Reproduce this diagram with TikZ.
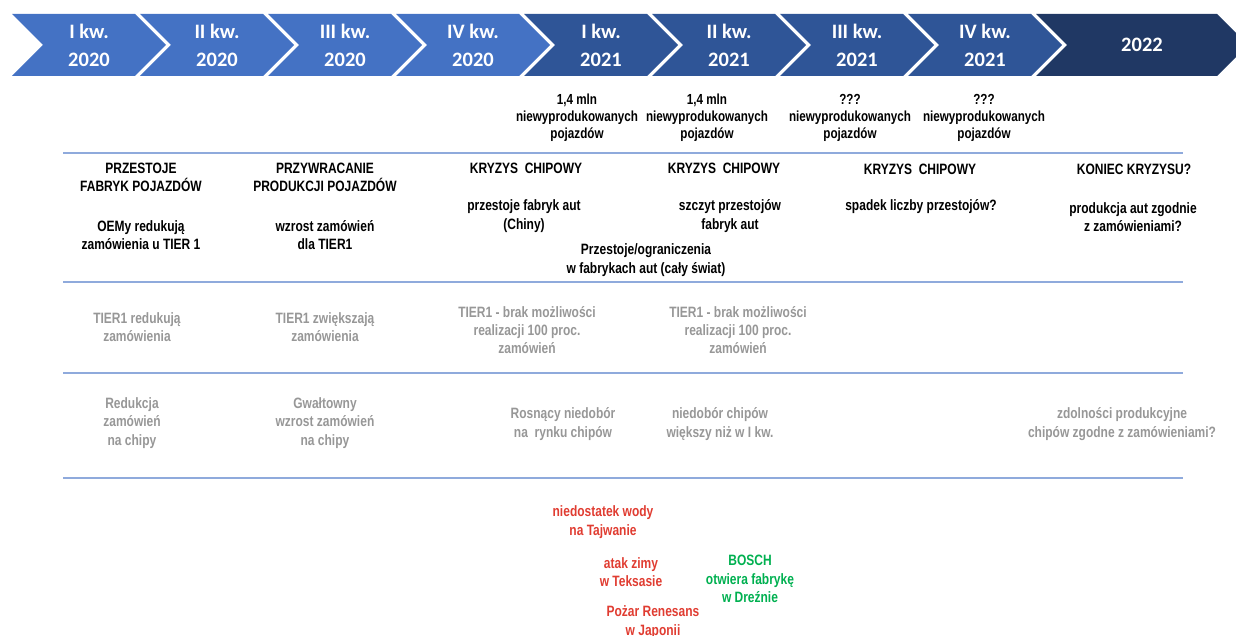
\documentclass[tikz,border=0pt]{standalone}
\usepackage{fontspec}
\setmainfont{Liberation Sans}[FakeStretch=0.80]
\newfontfamily\chevfont{Carlito}
\definecolor{cA}{HTML}{4472C4}
\definecolor{cB}{HTML}{2F5597}
\definecolor{cC}{HTML}{203864}
\definecolor{sepc}{HTML}{8FAADC}
\definecolor{txtgray}{HTML}{979797}
\definecolor{txtred}{HTML}{E03C31}
\definecolor{txtgreen}{HTML}{00B050}
\begin{document}
\begin{tikzpicture}[x=1pt,y=-1pt,
  chevtext/.style={align=center,text=white,inner sep=0pt,font=\chevfont\fontsize{20.5}{28}\selectfont\bfseries},
  sepline/.style={draw=sepc,line width=1.4pt},
  txt/.style={align=center,inner sep=0pt,font=\fontsize{15}{18.3}\selectfont\bfseries},
  toptxt/.style={align=center,inner sep=0pt,font=\fontsize{14.6}{17}\selectfont\bfseries},
  graytxt/.style={txt,text=txtgray},
  redtxt/.style={txt,text=txtred},
  greentxt/.style={txt,text=txtgreen}]
\useasboundingbox (0,0) rectangle (1236,636);
% chevrons
\foreach \k/\q/\yr/\col in {0/I/2020/cA,1/II/2020/cA,2/III/2020/cA,3/IV/2020/cA,4/I/2021/cB,5/II/2021/cB,6/III/2021/cB,7/IV/2021/cB}{
  \pgfmathsetmacro\xx{12+128*\k}
  \fill[\col] (\xx,14) -- ++(123,0) -- ++(31,31) -- ++(-31,31) -- ++(-123,0) -- ++(31,-31) -- cycle;
  \node[chevtext] (ch\k) at (\xx+77,45) {\q\ kw.\\\yr};
}
\fill[cC] (1036,14) -- (1217,14) -- (1248,45) -- (1217,76) -- (1036,76) -- (1067,45) -- cycle;
\node[chevtext] (ch8) at (1142,45) {2022};
% separator lines
\coordinate (l1a) at (63,153); \coordinate (l1b) at (1183,153);
\coordinate (l2a) at (63,282); \coordinate (l2b) at (1183,282);
\coordinate (l3a) at (63,373); \coordinate (l3b) at (1183,373);
\coordinate (l4a) at (63,478); \coordinate (l4b) at (1183,478);
\draw[sepline] (l1a) -- (l1b);
\draw[sepline] (l2a) -- (l2b);
\draw[sepline] (l3a) -- (l3b);
\draw[sepline] (l4a) -- (l4b);
% top row
\node[toptxt] (u1) at (577,118) {1,4 mln\\niewyprodukowanych\\pojazdów};
\node[toptxt] (u2) at (707,118) {1,4 mln\\niewyprodukowanych\\pojazdów};
\node[toptxt] (u3) at (850,118) {???\\niewyprodukowanych\\pojazdów};
\node[toptxt] (u4) at (984,118) {???\\niewyprodukowanych\\pojazdów};
% title row
\node[txt] (t1) at (141,177) {PRZESTOJE\\FABRYK POJAZDÓW};
\node[txt] (t1b) at (141,235) {OEMy redukują\\zamówienia u TIER 1};
\node[txt] (t2) at (325,177) {PRZYWRACANIE\\PRODUKCJI POJAZDÓW};
\node[txt] (t2b) at (325,235) {wzrost zamówień\\dla TIER1};
\node[txt] (t3) at (526,168) {KRYZYS\ \ CHIPOWY};
\node[txt] (t3b) at (524,216) {przestoje fabryk aut\\(Chiny)};
\node[txt] (t4) at (724,168) {KRYZYS\ \ CHIPOWY};
\node[txt] (t4b) at (730,216) {szczyt przestojów\\fabryk aut};
\node[txt] (t34) at (646,260) {Przestoje/ograniczenia\\w fabrykach aut (cały świat)};
\node[txt] (t5) at (920,169) {KRYZYS\ \ CHIPOWY};
\node[txt] (t5b) at (921,207) {spadek liczby przestojów?};
\node[txt] (t6) at (1134,169) {KONIEC KRYZYSU?};
\node[txt] (t6b) at (1133,217) {produkcja aut zgodnie\\z zamówieniami?};
% gray TIER1 row
\node[graytxt] (g1) at (137,327) {TIER1 redukują\\zamówienia};
\node[graytxt] (g2) at (325,327) {TIER1 zwiększają\\zamówienia};
\node[graytxt] (g3) at (527,330) {TIER1 - brak możliwości\\realizacji 100 proc.\\zamówień};
\node[graytxt] (g4) at (738,330) {TIER1 - brak możliwości\\realizacji 100 proc.\\zamówień};
% gray chips row
\node[graytxt] (c1) at (132,423) {Redukcja\\zamówień\\na chipy};
\node[graytxt] (c2) at (325,423) {Gwałtowny\\wzrost zamówień\\na chipy};
\node[graytxt] (c3) at (563,424) {Rosnący niedobór\\na\ \ rynku chipów};
\node[graytxt] (c4) at (720,424) {niedobór chipów\\większy niż w I kw.};
\node[graytxt] (c5) at (1122,424) {zdolności produkcyjne\\chipów zgodne z zamówieniami?};
% events
\node[redtxt] (e1) at (603,522) {niedostatek wody\\na Tajwanie};
\node[redtxt] (e2) at (631,572) {atak zimy\\w Teksasie};
\node[redtxt] (e3) at (653,622) {Pożar Renesans\\w Japonii};
\node[greentxt] (e4) at (750,579) {BOSCH\\otwiera fabrykę\\w Dreźnie};
\end{tikzpicture}
\end{document}
